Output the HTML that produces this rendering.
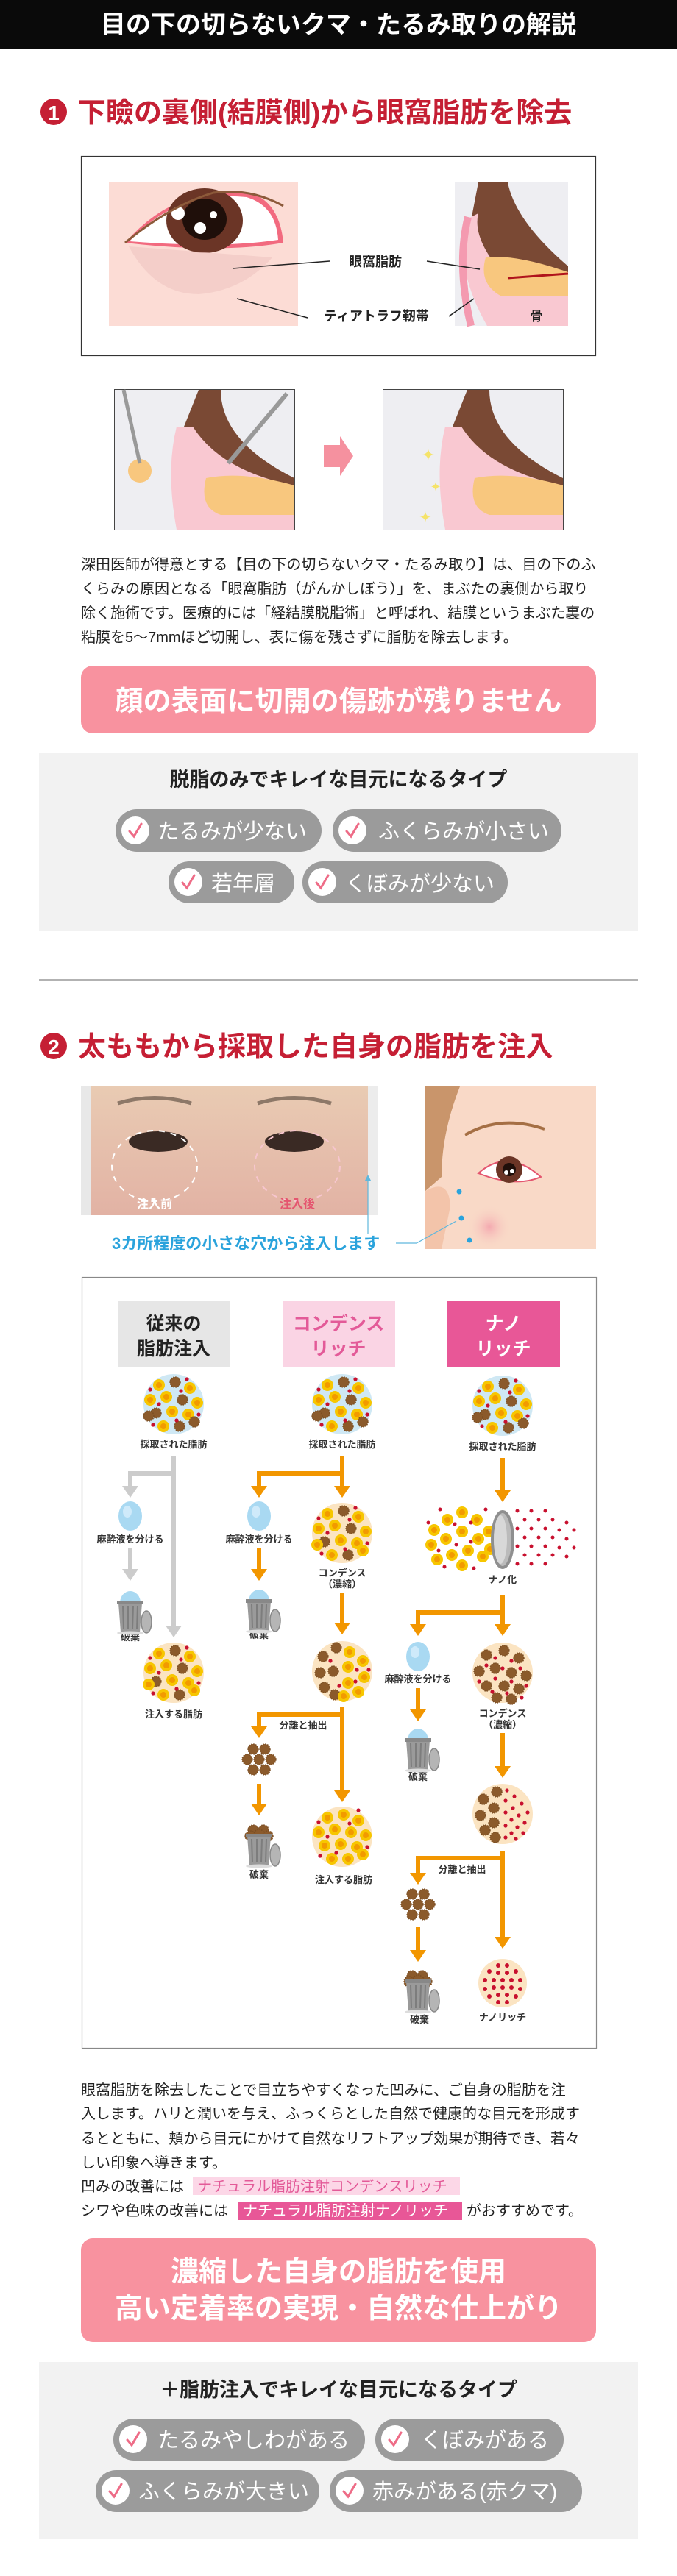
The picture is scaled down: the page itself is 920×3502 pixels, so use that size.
<!DOCTYPE html>
<html><head><meta charset="utf-8">
<style>
html,body{margin:0;padding:0;background:#fff;}
body{width:920px;height:3502px;overflow:hidden;}
svg{display:block;}
text{font-family:"Liberation Sans","Noto Sans CJK JP",sans-serif;}
</style></head>
<body>
<svg width="920" height="3502" viewBox="0 0 920 3502" xmlns="http://www.w3.org/2000/svg">
<defs>
  <g id="yc"><circle r="8" fill="#f7c600"/><circle r="4" fill="#f29a00"/></g>
  <g id="bc"><circle r="7" fill="#8b5a2b" stroke="#7a4d22" stroke-width="1.5" stroke-dasharray="1.5 1.5"/></g>
  <g id="rd"><circle r="2.6" fill="#c8102e"/></g>
  <g id="raw">
    <circle r="41" fill="#cfe8f4"/>
    <use href="#yc" x="-20" y="-26"/><use href="#bc" x="2" y="-30"/><use href="#yc" x="22" y="-22"/>
    <use href="#yc" x="-32" y="-6"/><use href="#yc" x="-10" y="-10"/><use href="#bc" x="12" y="-6"/><use href="#yc" x="32" y="-2"/>
    <use href="#bc" x="-24" y="12"/><use href="#yc" x="-2" y="10"/><use href="#yc" x="20" y="14"/>
    <use href="#yc" x="-14" y="30"/><use href="#bc" x="8" y="30"/><use href="#bc" x="28" y="24"/><use href="#bc" x="-34" y="16"/>
    <use href="#rd" x="-32" y="-20"/><use href="#rd" x="10" y="-18"/><use href="#rd" x="-20" y="0"/><use href="#rd" x="34" y="14"/><use href="#rd" x="-28" y="28"/><use href="#rd" x="18" y="-34"/><use href="#rd" x="4" y="22"/>
  </g>
  <g id="cond">
    <circle r="41" fill="#fbe4c2"/>
    <use href="#yc" x="-20" y="-26"/><use href="#bc" x="2" y="-30"/><use href="#yc" x="22" y="-22"/>
    <use href="#yc" x="-32" y="-6"/><use href="#yc" x="-10" y="-10"/><use href="#bc" x="12" y="-6"/><use href="#yc" x="32" y="-2"/>
    <use href="#bc" x="-24" y="12"/><use href="#yc" x="-2" y="10"/><use href="#yc" x="20" y="14"/>
    <use href="#yc" x="-14" y="30"/><use href="#bc" x="8" y="30"/><use href="#yc" x="28" y="24"/><use href="#yc" x="-34" y="16"/>
    <use href="#rd" x="-32" y="-20"/><use href="#rd" x="10" y="-18"/><use href="#rd" x="-20" y="0"/><use href="#rd" x="34" y="14"/><use href="#rd" x="-28" y="28"/><use href="#rd" x="18" y="-34"/><use href="#rd" x="4" y="22"/>
  </g>
  <g id="mix">
    <circle r="41" fill="#fbe4c2"/>
    <use href="#bc" x="-26" y="-20"/><use href="#bc" x="-30" y="2"/><use href="#bc" x="-24" y="22"/><use href="#bc" x="-8" y="-32"/><use href="#bc" x="-10" y="32"/><use href="#bc" x="-12" y="0"/>
    <use href="#yc" x="10" y="-26"/><use href="#yc" x="28" y="-14"/><use href="#yc" x="8" y="-6"/><use href="#yc" x="30" y="8"/><use href="#yc" x="8" y="16"/><use href="#yc" x="22" y="28"/><use href="#yc" x="2" y="34"/>
    <use href="#rd" x="-16" y="-14"/><use href="#rd" x="20" y="-2"/><use href="#rd" x="-4" y="20"/><use href="#rd" x="36" y="-2"/><use href="#rd" x="18" y="14"/>
  </g>
  <g id="fin">
    <circle r="41" fill="#fbe4c2"/>
    <use href="#yc" x="-20" y="-26"/><use href="#yc" x="2" y="-30"/><use href="#yc" x="22" y="-22"/>
    <use href="#yc" x="-32" y="-6"/><use href="#yc" x="-10" y="-10"/><use href="#yc" x="12" y="-6"/><use href="#yc" x="32" y="-2"/>
    <use href="#yc" x="-24" y="12"/><use href="#yc" x="-2" y="10"/><use href="#yc" x="20" y="14"/>
    <use href="#yc" x="-14" y="30"/><use href="#yc" x="8" y="30"/><use href="#yc" x="28" y="24"/>
    <use href="#rd" x="-32" y="-20"/><use href="#rd" x="10" y="-18"/><use href="#rd" x="-20" y="0"/><use href="#rd" x="34" y="14"/><use href="#rd" x="-30" y="26"/><use href="#rd" x="-8" y="22"/><use href="#rd" x="22" y="-36"/>
  </g>
  <g id="bred">
    <circle r="41" fill="#fbe4c2"/>
    <use href="#bc" x="-22" y="-24"/><use href="#bc" x="2" y="-30"/><use href="#bc" x="22" y="-20"/><use href="#bc" x="-32" y="-2"/><use href="#bc" x="-10" y="-6"/><use href="#bc" x="12" y="0"/><use href="#bc" x="32" y="4"/><use href="#bc" x="-22" y="18"/><use href="#bc" x="2" y="18"/><use href="#bc" x="22" y="22"/><use href="#bc" x="-8" y="34"/><use href="#bc" x="12" y="36"/>
    <use href="#rd" x="-10" y="-20"/><use href="#rd" x="12" y="-16"/><use href="#rd" x="-22" y="-10"/><use href="#rd" x="0" y="-6"/><use href="#rd" x="24" y="-6"/><use href="#rd" x="-32" y="12"/><use href="#rd" x="-10" y="8"/><use href="#rd" x="12" y="12"/><use href="#rd" x="32" y="18"/><use href="#rd" x="-14" y="26"/><use href="#rd" x="6" y="28"/><use href="#rd" x="26" y="34"/>
  </g>
  <g id="half">
    <circle r="41" fill="#fbe4c2"/>
    <use href="#bc" x="-26" y="-20"/><use href="#bc" x="-30" y="2"/><use href="#bc" x="-24" y="22"/><use href="#bc" x="-8" y="-30"/><use href="#bc" x="-10" y="32"/><use href="#bc" x="-12" y="-8"/><use href="#bc" x="-12" y="12"/>
    <use href="#rd" x="6" y="-32"/><use href="#rd" x="16" y="-24"/><use href="#rd" x="4" y="-18"/><use href="#rd" x="26" y="-14"/><use href="#rd" x="14" y="-8"/><use href="#rd" x="4" y="-2"/><use href="#rd" x="34" y="-2"/><use href="#rd" x="22" y="2"/><use href="#rd" x="12" y="8"/><use href="#rd" x="30" y="12"/><use href="#rd" x="4" y="16"/><use href="#rd" x="20" y="18"/><use href="#rd" x="12" y="26"/><use href="#rd" x="28" y="26"/><use href="#rd" x="4" y="32"/><use href="#rd" x="18" y="34"/>
  </g>
  <g id="nano">
    <circle r="33" fill="#fbe4c2"/>
    <g fill="#c8102e">
      <circle cx="-6" cy="-24" r="3"/><circle cx="6" cy="-24" r="3"/><circle cx="-18" cy="-16" r="3"/><circle cx="-6" cy="-14" r="3"/><circle cx="6" cy="-14" r="3"/><circle cx="18" cy="-16" r="3"/>
      <circle cx="-24" cy="-4" r="3"/><circle cx="-12" cy="-4" r="3"/><circle cx="0" cy="-4" r="3"/><circle cx="12" cy="-4" r="3"/><circle cx="24" cy="-4" r="3"/>
      <circle cx="-24" cy="8" r="3"/><circle cx="-12" cy="6" r="3"/><circle cx="0" cy="6" r="3"/><circle cx="12" cy="6" r="3"/><circle cx="24" cy="8" r="3"/>
      <circle cx="-18" cy="18" r="3"/><circle cx="-6" cy="16" r="3"/><circle cx="6" cy="16" r="3"/><circle cx="18" cy="18" r="3"/><circle cx="-6" cy="26" r="3"/><circle cx="6" cy="26" r="3"/>
    </g>
  </g>
  <g id="drop"><ellipse rx="16" ry="20" fill="#a9d9f2"/><ellipse cx="-4" cy="-6" rx="6" ry="8" fill="#cfeafa"/></g>
  <g id="trash">
    <path d="M-16,-14 L16,-14 L13,26 L-13,26 Z" fill="#9a9a9a"/>
    <path d="M-10,-10 L-9,22 M-3,-10 L-3,22 M4,-10 L3,22 M10,-10 L9,22" stroke="#7d7d7d" stroke-width="2"/>
    <rect x="-18" y="-17" width="36" height="5" fill="#888"/>
    <ellipse cx="22" cy="12" rx="7" ry="15" fill="#b5b5b5" stroke="#888" stroke-width="1.5"/>
    <ellipse cx="0" cy="27" rx="18" ry="2.5" fill="#ddd"/>
  </g>
  <g id="trashD"><path d="M-14,-14 A14,16 0 0 1 14,-14 Z" fill="#a9d9f2"/><use href="#trash"/></g>
  <g id="cluster">
    <use href="#bc" x="-8" y="-14"/><use href="#bc" x="8" y="-14"/><use href="#bc" x="-16" y="0"/><use href="#bc" x="0" y="0"/><use href="#bc" x="16" y="0"/><use href="#bc" x="-8" y="14"/><use href="#bc" x="8" y="14"/>
  </g>
  <g id="trashB"><use href="#bc" x="-8" y="-22"/><use href="#bc" x="6" y="-22"/><use href="#bc" x="-12" y="-14"/><use href="#bc" x="0" y="-16"/><use href="#bc" x="12" y="-14"/><use href="#trash"/></g>
  <g id="pchk"><circle r="19" fill="#fff"/><path d="M-8,1 L-2,8 L8,-9" fill="none" stroke="#ee6c87" stroke-width="3" stroke-linecap="round"/></g>
</defs>

<!-- header -->
<rect x="0" y="0" width="920" height="67" fill="#0a0a0a"/>
<text x="460" y="45" font-size="34" font-weight="bold" fill="#fff" text-anchor="middle">目の下の切らないクマ・たるみ取りの解説</text>

<!-- section 1 heading -->
<circle cx="73" cy="152" r="18" fill="#c51f34"/>
<text x="73" y="163" font-size="28" font-weight="bold" fill="#fff" text-anchor="middle">1</text>
<text x="106" y="166" font-size="38" font-weight="bold" fill="#c51f34">下瞼の裏側(結膜側)から眼窩脂肪を除去</text>

<!-- box 1 -->
<rect x="110.5" y="212.5" width="699" height="271" fill="#fff" stroke="#333" stroke-width="1.2"/>
<rect x="148" y="248" width="257" height="195" fill="#fcdcd5"/>
<path d="M170,330 Q240,250 340,262 Q380,275 385,330 Q300,345 170,330 Z" fill="#f26a7f"/>
<path d="M176,328 Q240,258 335,268 Q375,280 378,326 Q300,338 176,328 Z" fill="#fff"/>
<ellipse cx="278" cy="300" rx="52" ry="44" fill="#6b3526"/>
<ellipse cx="278" cy="298" rx="30" ry="28" fill="#1f0f0a"/>
<circle cx="242" cy="290" r="9" fill="#fff"/><circle cx="272" cy="310" r="8" fill="#fff"/><circle cx="290" cy="292" r="5" fill="#fff"/>
<path d="M170,330 Q230,280 290,262 Q340,255 385,280" fill="none" stroke="#8c5a3a" stroke-width="3"/>
<path d="M175,335 Q210,400 270,400 Q330,395 370,350" fill="#f1c7c3" opacity=".7"/>
<line x1="316" y1="365" x2="448" y2="355" stroke="#222" stroke-width="1.5"/>
<line x1="322" y1="406" x2="418" y2="432" stroke="#222" stroke-width="1.5"/>
<rect x="618" y="248" width="154" height="195" fill="#eeeef2"/>
<path d="M650,248 L690,248 Q700,300 772,362 L772,392 L700,392 Q660,360 640,300 Z" fill="#7a4934"/>
<path d="M650,290 Q640,330 700,390 L772,392 L772,443 L662,443 Q620,370 630,300 Z" fill="#f9c8d1"/>
<path d="M660,350 Q700,345 772,370 L772,402 L680,402 Q650,385 660,350 Z" fill="#f8c77e"/>
<path d="M636,295 Q620,360 640,443" fill="none" stroke="#f49ab0" stroke-width="10"/>
<path d="M690,378 L772,372" stroke="#b0141c" stroke-width="3"/>
<text x="474" y="362" font-size="18" font-weight="bold" fill="#222">眼窩脂肪</text>
<line x1="580" y1="355" x2="652" y2="366" stroke="#222" stroke-width="1.5"/>
<text x="440" y="436" font-size="18" font-weight="bold" fill="#222">ティアトラフ靭帯</text>
<line x1="610" y1="430" x2="644" y2="406" stroke="#222" stroke-width="1.5"/>
<text x="720" y="436" font-size="18" font-weight="bold" fill="#222">骨</text>

<!-- lower images -->
<g>
<rect x="155.5" y="529.5" width="245" height="191" fill="#eeeef2" stroke="#444"/>
<path d="M270,530 L300,530 Q300,600 400,650 L400,690 L300,690 Q250,640 250,580 Z" fill="#7a4934"/>
<path d="M240,580 Q225,640 240,720 L400,720 L400,660 Q300,640 262,580 Z" fill="#f9c8d1"/>
<path d="M280,650 Q330,640 400,660 L400,700 L300,700 Q270,690 280,650 Z" fill="#f8c77e"/>
<circle cx="190" cy="640" r="16" fill="#f8c77e"/>
<path d="M168,530 L190,630" stroke="#999" stroke-width="5"/>
<path d="M390,535 L310,630" stroke="#999" stroke-width="6"/>
<polygon points="440,605 462,605 462,593 480,620 462,647 462,635 440,635" fill="#f5919f"/>
<rect x="520.5" y="529.5" width="245" height="191" fill="#eeeef2" stroke="#444"/>
<path d="M635,530 L665,530 Q665,600 765,650 L765,690 L665,690 Q615,640 615,580 Z" fill="#7a4934"/>
<path d="M605,580 Q590,640 605,720 L765,720 L765,660 Q665,640 627,580 Z" fill="#f9c8d1"/>
<path d="M645,650 Q695,640 765,660 L765,700 L665,700 Q635,690 645,650 Z" fill="#f8c77e"/>
<text x="582" y="626" font-size="22" fill="#f5e36a" text-anchor="middle">✦</text>
<text x="592" y="668" font-size="18" fill="#f5e36a" text-anchor="middle">✦</text>
<text x="578" y="710" font-size="20" fill="#f5e36a" text-anchor="middle">✦</text>
</g>

<!-- paragraph 1 -->
<g font-size="20" fill="#222">
<text x="110" y="774">深田医師が得意とする【目の下の切らないクマ・たるみ取り】は、目の下のふ</text>
<text x="110" y="807">くらみの原因となる「眼窩脂肪（がんかしぼう）」を、まぶたの裏側から取り</text>
<text x="110" y="840">除く施術です。医療的には「経結膜脱脂術」と呼ばれ、結膜というまぶた裏の</text>
<text x="110" y="873">粘膜を5〜7mmほど切開し、表に傷を残さずに脂肪を除去します。</text>
</g>

<rect x="110" y="905" width="700" height="92" rx="16" fill="#f8929f"/>
<text x="460" y="966" font-size="38" font-weight="bold" fill="#fff" text-anchor="middle">顔の表面に切開の傷跡が残りません</text>

<rect x="53" y="1024" width="814" height="241" fill="#f2f2f2"/>
<text x="460" y="1069" font-size="27" font-weight="bold" fill="#222" text-anchor="middle">脱脂のみでキレイな目元になるタイプ</text>
<rect x="157" y="1100" width="280" height="58" rx="29" fill="#9b9b9b"/><use href="#pchk" x="184" y="1129"/>
<text x="214" y="1140" font-size="29" fill="#fff">たるみが少ない</text>
<rect x="452" y="1100" width="311" height="58" rx="29" fill="#9b9b9b"/><use href="#pchk" x="479" y="1129"/>
<text x="514" y="1140" font-size="29" fill="#fff">ふくらみが小さい</text>
<rect x="229" y="1171" width="171" height="57" rx="28" fill="#9b9b9b"/><use href="#pchk" x="256" y="1199"/>
<text x="287" y="1211" font-size="29" fill="#fff">若年層</text>
<rect x="411" y="1171" width="279" height="57" rx="28" fill="#9b9b9b"/><use href="#pchk" x="438" y="1199"/>
<text x="469" y="1211" font-size="29" fill="#fff">くぼみが少ない</text>

<line x1="53" y1="1332" x2="867" y2="1332" stroke="#999" stroke-width="1.5"/>

<!-- section 2 heading -->
<circle cx="73" cy="1422" r="18" fill="#c51f34"/>
<text x="73" y="1433" font-size="28" font-weight="bold" fill="#fff" text-anchor="middle">2</text>
<text x="106" y="1436" font-size="38" font-weight="bold" fill="#c51f34">太ももから採取した自身の脂肪を注入</text>

<!-- photo -->
<defs>
<linearGradient id="sk" x1="0" y1="0" x2="0" y2="1"><stop offset="0" stop-color="#e9cbb3"/><stop offset="1" stop-color="#e2b2a4"/></linearGradient>
<radialGradient id="bl"><stop offset="0" stop-color="#f4a9b0"/><stop offset="1" stop-color="#f9d9c7" stop-opacity="0"/></radialGradient>
</defs>
<rect x="110" y="1477" width="404" height="175" fill="url(#sk)"/>
<rect x="110" y="1477" width="14" height="175" fill="#e8e8e8"/><rect x="500" y="1477" width="14" height="175" fill="#ececec"/>
<path d="M160,1500 Q210,1485 260,1500" stroke="#8d7868" stroke-width="5" fill="none"/>
<path d="M350,1500 Q400,1485 450,1500" stroke="#8d7868" stroke-width="5" fill="none"/>
<ellipse cx="215" cy="1552" rx="40" ry="14" fill="#3a2a24"/><ellipse cx="400" cy="1552" rx="40" ry="14" fill="#3a2a24"/>
<ellipse cx="210" cy="1585" rx="58" ry="48" fill="none" stroke="#fff" stroke-width="2" stroke-dasharray="8 8"/>
<ellipse cx="404" cy="1585" rx="58" ry="48" fill="none" stroke="#f7c6cf" stroke-width="2" stroke-dasharray="8 8"/>
<text x="210" y="1642" font-size="16" font-weight="bold" fill="#fff" text-anchor="middle">注入前</text>
<text x="404" y="1642" font-size="16" font-weight="bold" fill="#e4566f" text-anchor="middle">注入後</text>
<!-- illustration -->
<rect x="577" y="1477" width="233" height="221" fill="#f9d9c7"/>
<path d="M577,1477 L625,1477 Q600,1540 600,1600 L577,1620 Z" fill="#c9956b"/>
<path d="M577,1620 Q610,1600 612,1640 L600,1698 L577,1698 Z" fill="#f3c4aa"/>
<ellipse cx="660" cy="1740" rx="40" ry="0" fill="none"/>
<circle cx="665" cy="1668" r="30" fill="url(#bl)"/>
<path d="M632,1543 Q680,1515 740,1535" stroke="#a56f44" stroke-width="4" fill="none"/>
<path d="M650,1595 Q690,1560 735,1600 Q700,1615 650,1595 Z" fill="#fff" stroke="#e4566f" stroke-width="2"/>
<circle cx="692" cy="1590" r="18" fill="#6b3526"/><circle cx="692" cy="1590" r="9" fill="#1f0f0a"/><circle cx="688" cy="1594" r="3" fill="#fff"/><circle cx="696" cy="1592" r="3" fill="#fff"/>
<circle cx="624" cy="1620" r="3.5" fill="#2aa3dc"/><circle cx="627" cy="1656" r="3.5" fill="#2aa3dc"/><circle cx="638" cy="1686" r="3.5" fill="#2aa3dc"/>
<text x="152" y="1698" font-size="22" font-weight="bold" fill="#2aa3dc">3カ所程度の小さな穴から注入します</text>
<line x1="500" y1="1677" x2="500" y2="1600" stroke="#5fb7dd" stroke-width="1.2"/>
<polygon points="500,1597 496,1605 504,1605" fill="#5fb7dd"/>
<polyline points="538,1690 566,1690 620,1660" fill="none" stroke="#5fb7dd" stroke-width="1.2"/>

<!-- flow box -->
<rect x="111.5" y="1736.5" width="699" height="1048" fill="#fff" stroke="#888" stroke-width="1.2"/>
<rect x="160" y="1769" width="152" height="89" fill="#e6e6e6"/>
<text x="236" y="1808" font-size="25" font-weight="bold" fill="#222" text-anchor="middle">従来の</text>
<text x="236" y="1842" font-size="25" font-weight="bold" fill="#222" text-anchor="middle">脂肪注入</text>
<rect x="384" y="1769" width="153" height="89" fill="#fad4e4"/>
<text x="460" y="1808" font-size="25" font-weight="bold" fill="#e35a98" text-anchor="middle">コンデンス</text>
<text x="460" y="1842" font-size="25" font-weight="bold" fill="#e35a98" text-anchor="middle">リッチ</text>
<rect x="608" y="1769" width="153" height="89" fill="#e85797"/>
<text x="684" y="1808" font-size="25" font-weight="bold" fill="#fff" text-anchor="middle">ナノ</text>
<text x="684" y="1842" font-size="25" font-weight="bold" fill="#fff" text-anchor="middle">リッチ</text>

<use href="#raw" x="236" y="1909"/><use href="#raw" x="465" y="1909"/><use href="#raw" x="683" y="1911"/>
<g font-size="13" font-weight="bold" fill="#333" text-anchor="middle">
<text x="236" y="1968">採取された脂肪</text><text x="465" y="1968">採取された脂肪</text><text x="683" y="1971">採取された脂肪</text>
<text x="177" y="2097">麻酔液を分ける</text><text x="352" y="2097">麻酔液を分ける</text>
<text x="177" y="2230">破棄</text><text x="236" y="2335">注入する脂肪</text>
<text x="465" y="2143">コンデンス</text><text x="465" y="2158">（濃縮）</text>
<text x="352" y="2227">破棄</text>
<text x="412" y="2350">分離と抽出</text>
<text x="352" y="2553">破棄</text><text x="467" y="2560">注入する脂肪</text>
<text x="683" y="2152">ナノ化</text>
<text x="568" y="2287">麻酔液を分ける</text><text x="568" y="2420">破棄</text>
<text x="683" y="2334">コンデンス</text><text x="683" y="2349">（濃縮）</text>
<text x="628" y="2546">分離と抽出</text>
<text x="570" y="2750">破棄</text><text x="683" y="2747">ナノリッチ</text>
</g>

<!-- gray arrows col1 -->
<g stroke="#cccccc" stroke-width="6" fill="none">
<path d="M236,1980 L236,2212"/><path d="M236,2003 L177,2003 L177,2022"/><path d="M177,2105 L177,2135"/>
</g>
<g fill="#cccccc">
<polygon points="225,2210 247,2210 236,2226"/><polygon points="166,2020 188,2020 177,2036"/><polygon points="166,2133 188,2133 177,2149"/>
</g>
<!-- orange arrows -->
<g stroke="#f29600" stroke-width="6" fill="none">
<path d="M465,1980 L465,2022"/><path d="M468,2003 L352,2003 L352,2022"/><path d="M352,2105 L352,2135"/>
<path d="M465,2165 L465,2208"/>
<path d="M465,2320 L465,2436"/><path d="M468,2331 L352,2331 L352,2349"/><path d="M352,2425 L352,2454"/>
<path d="M683,1982 L683,2028"/>
<path d="M683,2168 L683,2210"/><path d="M686,2192 L568,2192 L568,2210"/><path d="M568,2295 L568,2326"/>
<path d="M683,2356 L683,2403"/>
<path d="M683,2516 L683,2635"/><path d="M686,2526 L568,2526 L568,2548"/><path d="M568,2620 L568,2653"/>
</g>
<g fill="#f29600">
<polygon points="454,2020 476,2020 465,2036"/><polygon points="341,2020 363,2020 352,2036"/><polygon points="341,2133 363,2133 352,2149"/>
<polygon points="454,2206 476,2206 465,2222"/>
<polygon points="454,2434 476,2434 465,2450"/><polygon points="341,2347 363,2347 352,2363"/><polygon points="341,2452 363,2452 352,2468"/>
<polygon points="672,2026 694,2026 683,2042"/>
<polygon points="672,2208 694,2208 683,2224"/><polygon points="557,2208 579,2208 568,2224"/><polygon points="557,2324 579,2324 568,2340"/>
<polygon points="672,2401 694,2401 683,2417"/>
<polygon points="672,2633 694,2633 683,2649"/><polygon points="557,2546 579,2546 568,2562"/><polygon points="557,2651 579,2651 568,2667"/>
</g>

<use href="#drop" x="177" y="2061"/><use href="#trashD" x="177" y="2193"/><use href="#cond" x="236" y="2274"/>
<use href="#drop" x="352" y="2061"/><use href="#cond" x="465" y="2084"/><use href="#trashD" x="352" y="2191"/>
<use href="#mix" x="465" y="2272"/><use href="#cluster" x="352" y="2392"/><use href="#trashB" x="352" y="2510"/><use href="#fin" x="465" y="2497"/>
<!-- nano field -->
<g>
<use href="#yc" x="590" y="2080"/><use href="#yc" x="608" y="2066"/><use href="#yc" x="628" y="2056"/><use href="#yc" x="648" y="2066"/>
<use href="#yc" x="586" y="2100"/><use href="#yc" x="606" y="2092"/><use href="#yc" x="628" y="2082"/><use href="#yc" x="650" y="2092"/>
<use href="#yc" x="594" y="2120"/><use href="#yc" x="614" y="2114"/><use href="#yc" x="636" y="2108"/><use href="#yc" x="656" y="2116"/><use href="#yc" x="628" y="2128"/><use href="#yc" x="664" y="2082"/><use href="#yc" x="666" y="2106"/>
<g fill="#c8102e">
<circle cx="582" cy="2070" r="2.5"/><circle cx="598" cy="2052" r="2.5"/><circle cx="618" cy="2072" r="2.5"/><circle cx="640" cy="2070" r="2.5"/><circle cx="596" cy="2108" r="2.5"/><circle cx="620" cy="2100" r="2.5"/><circle cx="640" cy="2096" r="2.5"/><circle cx="604" cy="2130" r="2.5"/><circle cx="644" cy="2132" r="2.5"/><circle cx="660" cy="2052" r="2.5"/>
<circle cx="703" cy="2054" r="2.5"/><circle cx="722" cy="2054" r="2.5"/><circle cx="741" cy="2054" r="2.5"/>
<circle cx="713" cy="2066" r="2.5"/><circle cx="732" cy="2066" r="2.5"/><circle cx="751" cy="2066" r="2.5"/><circle cx="770" cy="2070" r="2.5"/>
<circle cx="703" cy="2078" r="2.5"/><circle cx="722" cy="2078" r="2.5"/><circle cx="741" cy="2078" r="2.5"/><circle cx="760" cy="2080" r="2.5"/><circle cx="780" cy="2080" r="2.5"/>
<circle cx="713" cy="2090" r="2.5"/><circle cx="732" cy="2090" r="2.5"/><circle cx="751" cy="2090" r="2.5"/><circle cx="770" cy="2092" r="2.5"/>
<circle cx="703" cy="2102" r="2.5"/><circle cx="722" cy="2102" r="2.5"/><circle cx="741" cy="2102" r="2.5"/><circle cx="760" cy="2104" r="2.5"/><circle cx="780" cy="2104" r="2.5"/>
<circle cx="713" cy="2114" r="2.5"/><circle cx="732" cy="2114" r="2.5"/><circle cx="751" cy="2114" r="2.5"/><circle cx="770" cy="2116" r="2.5"/>
<circle cx="703" cy="2126" r="2.5"/><circle cx="722" cy="2126" r="2.5"/><circle cx="741" cy="2126" r="2.5"/>
</g>
<ellipse cx="683" cy="2093" rx="14" ry="38" fill="#bbbbbb" stroke="#8f8f8f" stroke-width="4"/>
<ellipse cx="680" cy="2093" rx="9" ry="33" fill="#d8d8d8"/>
</g>
<use href="#drop" x="568" y="2252"/><use href="#trashD" x="568" y="2380"/>
<use href="#bred" x="683" y="2274"/><use href="#half" x="683" y="2466"/>
<use href="#cluster" x="568" y="2589"/><use href="#trashB" x="568" y="2708"/><use href="#nano" x="683" y="2696"/>

<!-- paragraph 2 -->
<rect x="262" y="2960" width="363" height="24" fill="#fcd7e7"/>
<rect x="324" y="2993" width="304" height="25" fill="#e85797"/>
<g font-size="20" fill="#222">
<text x="110" y="2848">眼窩脂肪を除去したことで目立ちやすくなった凹みに、ご自身の脂肪を注</text>
<text x="110" y="2880">入します。ハリと潤いを与え、ふっくらとした自然で健康的な目元を形成す</text>
<text x="110" y="2914">るとともに、頬から目元にかけて自然なリフトアップ効果が期待でき、若々</text>
<text x="110" y="2947">しい印象へ導きます。</text>
<text x="110" y="2979">凹みの改善には</text>
<text x="268" y="2979" fill="#e35a98">ナチュラル脂肪注射コンデンスリッチ</text>
<text x="110" y="3012">シワや色味の改善には</text>
<text x="330" y="3012" fill="#fff">ナチュラル脂肪注射ナノリッチ</text>
<text x="634" y="3012">がおすすめです。</text>
</g>

<rect x="110" y="3043" width="700" height="141" rx="16" fill="#f8929f"/>
<text x="460" y="3101" font-size="38" font-weight="bold" fill="#fff" text-anchor="middle">濃縮した自身の脂肪を使用</text>
<text x="460" y="3151" font-size="38" font-weight="bold" fill="#fff" text-anchor="middle">高い定着率の実現・自然な仕上がり</text>

<rect x="53" y="3211" width="814" height="241" fill="#f2f2f2"/>
<text x="460" y="3258" font-size="27" font-weight="bold" fill="#222" text-anchor="middle">＋脂肪注入でキレイな目元になるタイプ</text>
<rect x="154" y="3288" width="342" height="57" rx="28" fill="#9b9b9b"/><use href="#pchk" x="181" y="3316"/>
<text x="214" y="3327" font-size="29" fill="#fff">たるみやしわがある</text>
<rect x="510" y="3288" width="256" height="57" rx="28" fill="#9b9b9b"/><use href="#pchk" x="537" y="3316"/>
<text x="572" y="3327" font-size="29" fill="#fff">くぼみがある</text>
<rect x="130" y="3358" width="304" height="57" rx="28" fill="#9b9b9b"/><use href="#pchk" x="157" y="3386"/>
<text x="188" y="3397" font-size="29" fill="#fff">ふくらみが大きい</text>
<rect x="448" y="3358" width="343" height="57" rx="28" fill="#9b9b9b"/><use href="#pchk" x="475" y="3386"/>
<text x="506" y="3397" font-size="29" fill="#fff">赤みがある(赤クマ)</text>
</svg>
</body></html>
